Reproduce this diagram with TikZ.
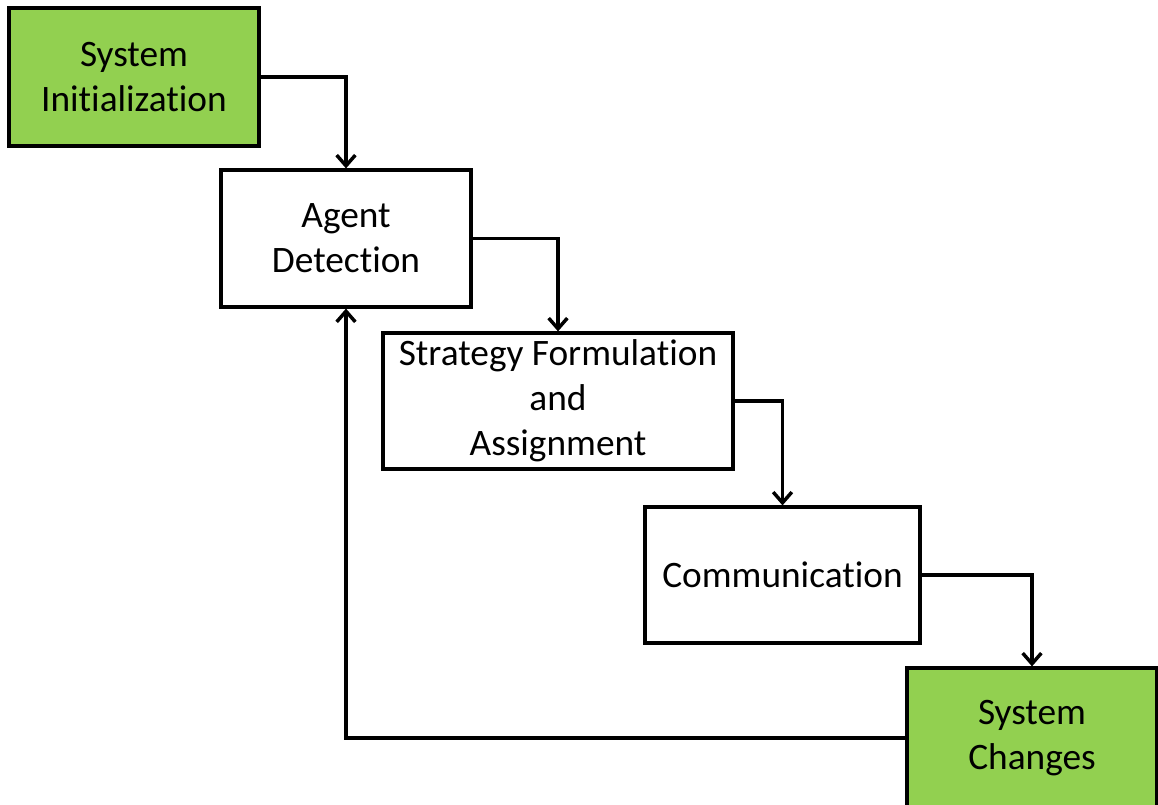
\documentclass[tikz,border=0pt]{standalone}
\usepackage{fontspec}
\setmainfont[Ligatures=NoCommon]{Carlito}
\usetikzlibrary{arrows.meta}
\definecolor{boxgreen}{HTML}{92D050}
\begin{document}
\begin{tikzpicture}[x=0.75pt,y=-0.75pt,
  box/.style={draw=black,line width=2.4pt,fill=white,align=center,inner sep=0pt,
    font=\fontsize{28pt}{33.75pt}\selectfont},
  greenbox/.style={box,fill=boxgreen},
  conn/.style={line width=2.6pt,-{Straight Barb[length=8pt,width=14pt,line width=2.6pt]}}]
\useasboundingbox (0,0) rectangle (1158,805);
\node[greenbox,minimum width=250*0.75pt,minimum height=138*0.75pt] (init) at (134,77) {System\\Initialization};
\node[box,minimum width=250*0.75pt,minimum height=137*0.75pt] (agent) at (346,238.5) {Agent\\Detection};
\node[box,minimum width=350*0.75pt,minimum height=136*0.75pt] (strat) at (558,401) {Strategy Formulation\\and\\Assignment};
\node[box,minimum width=275*0.75pt,minimum height=136*0.75pt] (comm) at (782.5,575) {Communication};
\node[greenbox,minimum width=250*0.75pt,minimum height=140*0.75pt] (change) at (1032,738) {System\\Changes};
\draw[conn] (init.east) -| (agent.north);
\draw[conn] (agent.east) -| (strat.north);
\draw[conn] (strat.east) -| (comm.north);
\draw[conn] (comm.east) -| (change.north);
\draw[conn] (change.west) -| (agent.south);
\end{tikzpicture}
\end{document}
